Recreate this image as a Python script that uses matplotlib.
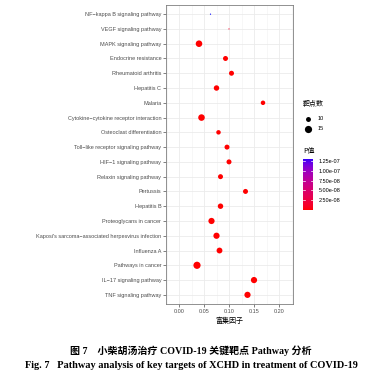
import numpy as np
import matplotlib
matplotlib.use("Agg")
import matplotlib.pyplot as plt
from matplotlib.colors import ListedColormap, Normalize
from matplotlib.lines import Line2D

# ---------------- data ----------------
pathways = [
    "NF\u2212kappa B signaling pathway",
    "VEGF signaling pathway",
    "MAPK signaling pathway",
    "Endocrine resistance",
    "Rheumatoid arthritis",
    "Hepatitis C",
    "Malaria",
    "Cytokine\u2212cytokine receptor interaction",
    "Osteoclast differentiation",
    "Toll\u2212like receptor signaling pathway",
    "HIF\u22121 signaling pathway",
    "Relaxin signaling pathway",
    "Pertussis",
    "Hepatitis B",
    "Proteoglycans in cancer",
    "Kaposi's sarcoma\u2212associated herpesvirus infection",
    "Influenza A",
    "Pathways in cancer",
    "IL\u221217 signaling pathway",
    "TNF signaling pathway",
]
rich_factor = [0.063, 0.100, 0.040, 0.093, 0.105, 0.075, 0.168, 0.045, 0.079, 0.096,
               0.100, 0.083, 0.133, 0.083, 0.065, 0.075, 0.081, 0.036, 0.150, 0.137]
gene_count = [7, 7, 15, 11, 11, 12, 10, 15, 10, 11,
              11, 11, 11, 12, 14, 14, 13, 17, 14, 14]
p_value = [1.30e-07, 1.2e-08, 1.0e-12, 2.0e-10, 1.5e-10, 5.0e-11, 3.0e-10, 1.0e-12, 2.0e-10, 1.0e-10,
           1.0e-10, 1.5e-10, 1.0e-10, 5.0e-11, 1.0e-12, 1.0e-12, 5.0e-11, 1.0e-15, 1.0e-13, 1.0e-13]
x_ticks = [0.00, 0.05, 0.10, 0.15, 0.20]
size_legend = [10, 15]
cbar_ticks = [2.5e-08, 5.0e-08, 7.5e-08, 1.0e-07, 1.25e-07]

# ---------------- colour map: red -> blue interpolated in CIELAB ----------------
def srgb_to_lab(rgb):
    rgb = np.asarray(rgb, float)
    lin = np.where(rgb <= 0.04045, rgb / 12.92, ((rgb + 0.055) / 1.055) ** 2.4)
    M = np.array([[0.4124, 0.3576, 0.1805],
                  [0.2126, 0.7152, 0.0722],
                  [0.0193, 0.1192, 0.9505]])
    xyz = M @ lin
    wp = np.array([0.95047, 1.0, 1.08883])
    t = xyz / wp
    f = np.where(t > 0.008856, np.cbrt(t), 7.787 * t + 16 / 116)
    return np.array([116 * f[1] - 16, 500 * (f[0] - f[1]), 200 * (f[1] - f[2])])

def lab_to_srgb(lab):
    L, a, b = lab
    fy = (L + 16) / 116
    fx = fy + a / 500
    fz = fy - b / 200
    f = np.array([fx, fy, fz])
    t = np.where(f ** 3 > 0.008856, f ** 3, (f - 16 / 116) / 7.787)
    xyz = t * np.array([0.95047, 1.0, 1.08883])
    Minv = np.array([[3.2406, -1.5372, -0.4986],
                     [-0.9689, 1.8758, 0.0415],
                     [0.0557, -0.2040, 1.0570]])
    lin = Minv @ xyz
    lin = np.clip(lin, 0, 1)
    rgb = np.where(lin <= 0.0031308, 12.92 * lin, 1.055 * lin ** (1 / 2.4) - 0.055)
    return np.clip(rgb, 0, 1)

lab_lo = srgb_to_lab([1, 0, 0])
lab_hi = srgb_to_lab([0, 0, 1])
cols = [lab_to_srgb(lab_lo + (lab_hi - lab_lo) * t) for t in np.linspace(0, 1, 256)]
cmap = ListedColormap(cols)
norm = Normalize(vmin=min(p_value), vmax=max(p_value))

# ---------------- sizes (ggplot area scale, range 1..6) ----------------
cmin, cmax = min(gene_count), max(gene_count)
def diam_px(c):
    return (7.2 / 6.0) * (1 + 5 * np.sqrt((c - cmin) / (cmax - cmin)))
def s_of(c):
    return (diam_px(c) * 0.72) ** 2

# ---------------- figure ----------------
W, H = 382, 387
fig = plt.figure(figsize=(W / 100, H / 100), dpi=100)
ax = fig.add_axes([166 / W, 1 - 304 / H, (293 - 166) / W, (304 - 5) / H])

ypos = np.arange(len(pathways))
ax.scatter(rich_factor, ypos, s=[s_of(c) for c in gene_count],
           c=p_value, cmap=cmap, norm=norm, linewidths=0, zorder=3)

ax.set_ylim(len(pathways) - 1 + 0.62, -0.62)
ax.set_xlim(-0.026, 0.228)
ax.set_yticks(ypos)
ax.set_yticklabels(pathways)
ax.set_xticks(x_ticks)
ax.set_xticklabels([f"{v:.2f}" for v in x_ticks])
ax.set_xticks(np.arange(-0.025, 0.23, 0.05), minor=True)

font = ["Liberation Sans", "DejaVu Sans"]
ax.tick_params(axis="both", which="major", labelsize=4.0, colors="#4D4D4D",
               length=2.2, width=0.5, pad=1.2)
for lab in ax.get_xticklabels() + ax.get_yticklabels():
    lab.set_family(font)
    lab.set_color("#4D4D4D")
ax.tick_params(axis="x", which="minor", length=0)
ax.grid(True, which="major", color="#EBEBEB", linewidth=0.6, zorder=0)
ax.grid(True, which="minor", axis="x", color="#F2F2F2", linewidth=0.4, zorder=0)
ax.set_axisbelow(True)
for sp in ax.spines.values():
    sp.set_color("#7F7F7F")
    sp.set_linewidth(0.6)

ax.set_xlabel("富集因子", fontsize=5.0, family=["Noto Sans CJK SC", "DejaVu Sans"],
              color="black", labelpad=2)

# ---------------- size legend ----------------
fig.text(303 / W, 1 - 104 / H, "靶点数", fontsize=5.0, family=["Noto Sans CJK SC", "DejaVu Sans"],
         va="center", ha="left")
for yy, c in zip([119, 129], size_legend):
    fig.add_artist(Line2D([308 / W], [1 - yy / H], marker="o", linestyle="none",
                          markersize=diam_px(c) * 0.72 * 1.1, color="black", markeredgewidth=0))
    fig.text(318 / W, 1 - yy / H, str(c), fontsize=4.0, family=font, va="center", ha="left")

# ---------------- colour bar ----------------
fig.text(303 / W, 1 - 151 / H, "P值", fontsize=5.0, family=["Noto Sans CJK SC", "DejaVu Sans"],
         va="center", ha="left")
cax = fig.add_axes([303 / W, 1 - 210 / H, 10 / W, 51 / H])
grad = np.linspace(norm.vmin, norm.vmax, 256).reshape(-1, 1)
cax.imshow(grad, aspect="auto", cmap=cmap, norm=norm, origin="lower",
           extent=[0, 1, norm.vmin, norm.vmax])
cax.set_xlim(0, 1)
cax.set_ylim(norm.vmin, norm.vmax)
for t in cbar_ticks:
    cax.plot([0, 0.2], [t, t], color="white", linewidth=0.5)
    cax.plot([0.8, 1], [t, t], color="white", linewidth=0.5)
cax.set_xticks([])
cax.yaxis.tick_right()
cax.set_yticks(cbar_ticks)
cax.set_yticklabels([f"{t:.2e}" for t in cbar_ticks])
cax.tick_params(axis="y", length=0, labelsize=4.0, pad=4)
for lab in cax.get_yticklabels():
    lab.set_family(font)
for sp in cax.spines.values():
    sp.set_visible(False)

# ---------------- caption ----------------
cap_font = ["Liberation Serif", "Noto Sans CJK SC"]
fig.text(191 / W, 1 - 350.5 / H,
         "图 7\u3000小柴胡汤治疗 COVID-19 关键靶点 Pathway 分析",
         fontsize=7.2, fontweight="bold", family=cap_font, ha="center", va="center")
fig.text(191 / W, 1 - 366 / H,
         "Fig. 7\u2002 Pathway analysis of key targets of XCHD in treatment of COVID-19",
         fontsize=7.4, fontweight="bold", family=["Liberation Serif", "DejaVu Serif"],
         ha="center", va="center")

fig.savefig("out.png", dpi=100)
